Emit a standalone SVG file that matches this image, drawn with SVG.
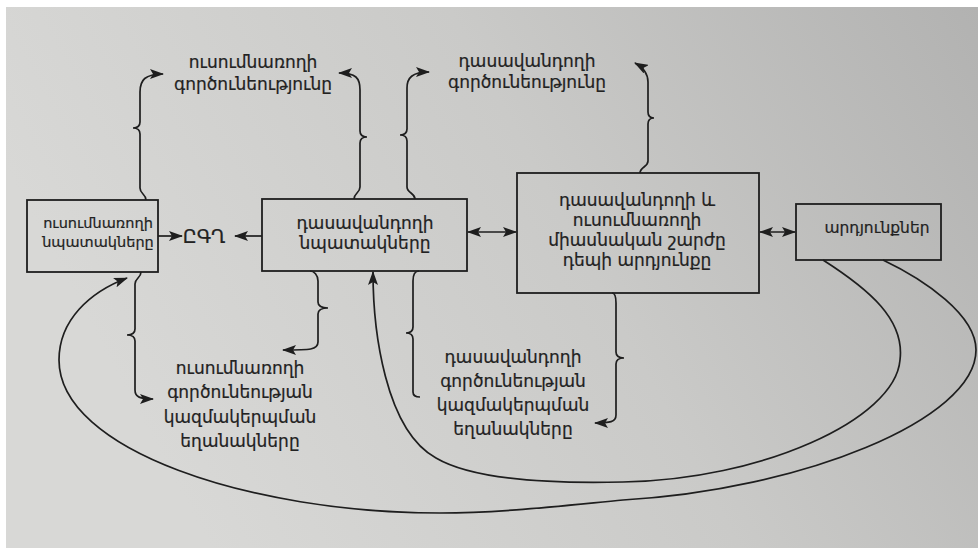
<svg xmlns="http://www.w3.org/2000/svg" width="978" height="554" viewBox="0 0 978 554">
<defs>
<linearGradient id="bg" x1="0" y1="0.3" x2="1" y2="0">
<stop offset="0" stop-color="#d8d8d6"/>
<stop offset="0.5" stop-color="#cacac8"/>
<stop offset="1" stop-color="#b2b2b1"/>
</linearGradient>
<marker id="ah" viewBox="0 0 14 10" refX="13" refY="5" markerWidth="14" markerHeight="10" markerUnits="userSpaceOnUse" orient="auto-start-reverse">
<path d="M0,0 L14,5 L0,10 L3,5 z" fill="#1e1e1e"/>
</marker>
<style>
.box{fill:none;stroke:#1e1e1e;stroke-width:1.8}
.ln{fill:none;stroke:#1e1e1e;stroke-width:1.7}
.t{font-family:"DejaVu Sans","Noto Sans",sans-serif;fill:#222;text-anchor:middle;font-size:17px;stroke:#222;stroke-width:0.2}
.s{font-size:14.5px}
.big{font-size:19px}
</style>
</defs>
<rect x="0" y="0" width="978" height="554" fill="#ffffff"/>
<rect x="6" y="7" width="972" height="541" fill="url(#bg)"/>

<g id="node-student-goals">
<rect class="box" x="27" y="200" width="131" height="72"/>
<text class="t s" x="98" y="228">ուսումնառողի</text>
<text class="t s" x="98" y="247">նպատակները</text>
</g>
<g id="node-egh">
<text class="t big" x="204" y="243">ԸԳՂ</text>
</g>
<g id="node-teacher-goals">
<rect class="box" x="262" y="199" width="205" height="72"/>
<text class="t" x="365" y="229">դասավանդողի</text>
<text class="t" x="365" y="249">նպատակները</text>
</g>
<g id="node-joint-movement">
<rect class="box" x="517" y="173" width="242" height="120"/>
<text class="t" x="637" y="206">դասավանդողի և</text>
<text class="t" x="637" y="226">ուսումնառողի</text>
<text class="t" x="637" y="246">միասնական  շարժը</text>
<text class="t" x="637" y="266">դեպի արդյունքը</text>
</g>
<g id="node-results">
<rect class="box" x="796" y="204" width="145" height="56"/>
<text class="t" style="font-size:15.5px" x="877" y="233">արդյունքներ</text>
</g>
<g id="label-student-activity">
<text class="t" x="253" y="68">ուսումնառողի</text>
<text class="t" x="253" y="90">գործունեությունը</text>
</g>
<g id="label-teacher-activity">
<text class="t" x="527" y="67">դասավանդողի</text>
<text class="t" x="527" y="88">գործունեությունը</text>
</g>
<g id="label-student-methods">
<text class="t" x="240" y="374">ուսումնառողի</text>
<text class="t" x="240" y="398">գործունեության</text>
<text class="t" x="240" y="423">կազմակերպման</text>
<text class="t" x="240" y="447">եղանակները</text>
</g>
<g id="label-teacher-methods">
<text class="t" x="513" y="363">դասավանդողի</text>
<text class="t" x="513" y="387">գործունեության</text>
<text class="t" x="513" y="411">կազմակերպման</text>
<text class="t" x="513" y="435">եղանակները</text>
</g>

<g id="connectors">
<path class="ln" d="M158 236 L182 236" marker-end="url(#ah)"/>
<path class="ln" d="M262 236 L235 236" marker-end="url(#ah)"/>
<path class="ln" d="M468 232 L516 232" marker-start="url(#ah)" marker-end="url(#ah)"/>
<path class="ln" d="M760 232 L795 232" marker-start="url(#ah)" marker-end="url(#ah)"/>
<path class="ln" d="M146 200 C146 194 140 194 140 188 L140 134 Q140 128 133 128 Q140 128 140 122 L140 92 C140 80 145 74 163 74" marker-end="url(#ah)"/>
<path class="ln" d="M354 199 C354 193 360 193 360 187 L360 143 Q360 137 367 137 Q360 137 360 131 L360 90 C360 78 356 73 339 73" marker-end="url(#ah)"/>
<path class="ln" d="M415 199 C415 193 407 193 407 187 L407 141 Q407 135 400 135 Q407 135 407 129 L407 88 C407 78 412 72 429 72" marker-end="url(#ah)"/>
<path class="ln" d="M640 173 C640 167 648 167 648 161 L648 124 Q648 118 654 118 Q648 118 648 112 L648 82 C648 74 644 68 635 63" marker-end="url(#ah)"/>
<path class="ln" d="M141 272 C141 278 135 278 135 284 L135 329 Q135 335 127 335 Q135 335 135 341 L135 390 C135 397 140 399 153 399" marker-end="url(#ah)"/>
<path class="ln" d="M310 271 C314 271 318 275 318 281 L318 302 Q318 308 328 308 Q318 308 318 314 L318 342 C318 350 310 350 283 350" marker-end="url(#ah)"/>
<path class="ln" d="M419 271 C415 271 413 275 413 281 L413 327 Q413 333 406 333 Q413 333 413 339 L413 392 C413 396 416 397 420 397"/>
<path class="ln" d="M612 293 C615 293 616 297 616 303 L616 352 Q616 358 624 358 Q616 358 616 364 L616 415 C616 422 610 423 595 423" marker-end="url(#ah)"/>
<path class="ln" d="M823 260 C870 290 905 320 900 360 C895 420 760 480 623 482 C540 484 470 478 436 458 C385 430 373 330 373 272" marker-end="url(#ah)"/>
<path class="ln" d="M883 260 C925 280 976 315 976 350 C976 420 800 490 623 500 C560 506 500 513 440 513 C250 513 59 450 59 360 C59 320 90 292 127 278" marker-end="url(#ah)"/>
</g>
</svg>
